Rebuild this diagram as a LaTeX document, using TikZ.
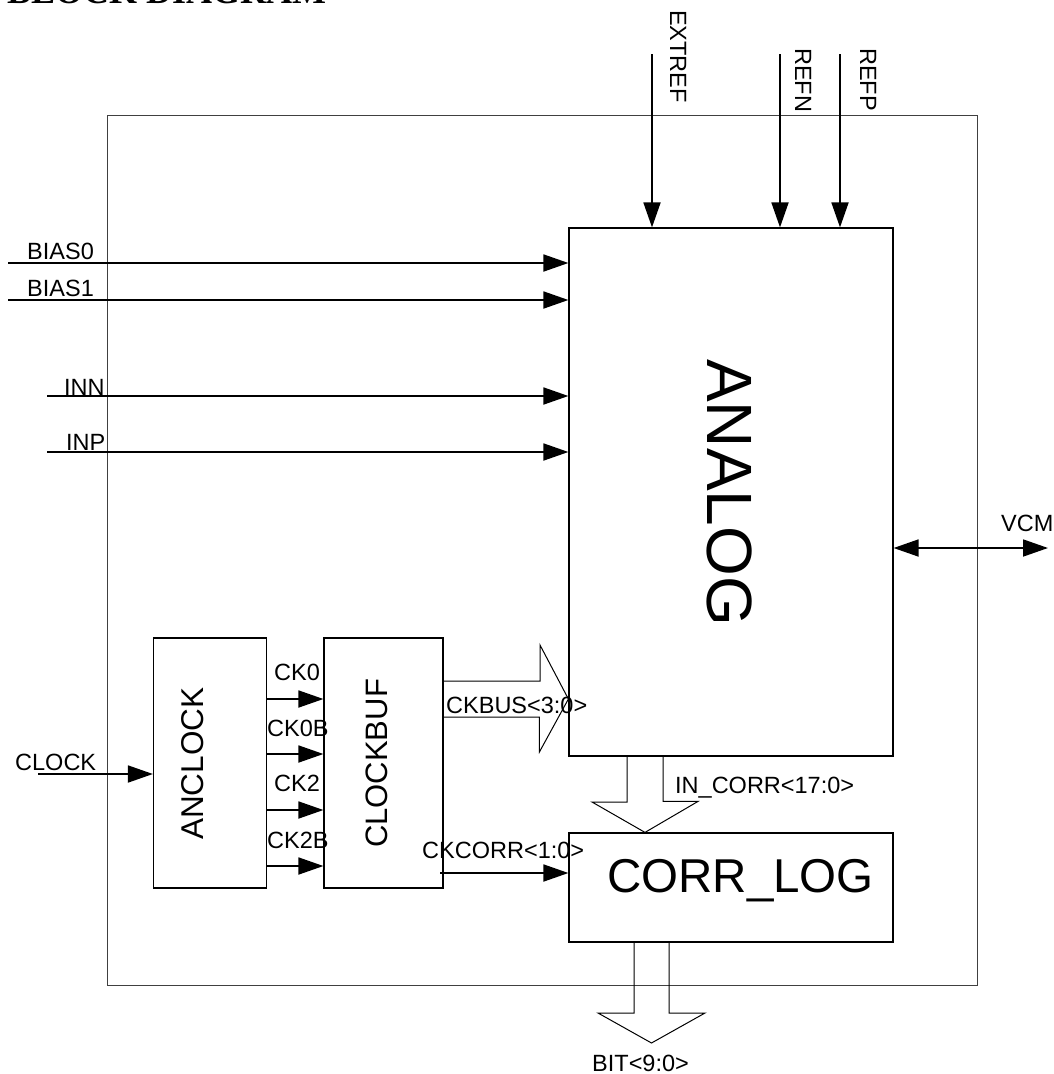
\documentclass[tikz,border=0pt]{standalone}
\usepackage{fontspec}
\setmainfont{Liberation Sans}
\newfontfamily\headfont{Liberation Serif}
\usetikzlibrary{arrows.meta}
\tikzset{
  blk/.style={draw,line width=1.2pt,inner sep=0pt},
  sig/.style={line width=1.8pt,-{Triangle[length=25pt,width=17pt]}},
  dsig/.style={line width=1.8pt,{Triangle[length=25pt,width=17pt]}-{Triangle[length=25pt,width=17pt]}},
  bus/.style={line width=1pt},
  lbl/.style={anchor=base west,inner sep=0pt,font=\fontsize{23.5}{28}\selectfont},
}
\begin{document}
\begin{tikzpicture}[x=1pt,y=-1pt]
\useasboundingbox (0,0) rectangle (1053,1074);
\node[lbl,font=\headfont\bfseries\fontsize{36}{40}\selectfont] (title) at (7,3) {BLOCK DIAGRAM};
\node[blk,draw=black!75,line width=1pt,minimum width=870pt,minimum height=870pt] (chip) at (542,550) {};
\node[blk,minimum width=324pt,minimum height=528pt] (analog) at (731,492) {};
\node[blk,minimum width=324pt,minimum height=109pt] (corrlog) at (731,887.5) {};
\node[blk,minimum width=113pt,minimum height=250pt] (anclock) at (210,763) {};
\node[blk,minimum width=119pt,minimum height=250pt] (clockbuf) at (383.5,763) {};
\node[lbl,rotate=-90,font=\fontsize{64}{70}\selectfont] (analogtxt) at (707,359) {ANALOG};
\node[lbl,font=\fontsize{47.5}{54}\selectfont] (corrlogtxt) at (607,892) {CORR\_LOG};
\node[lbl,rotate=90,font=\fontsize{31.5}{36}\selectfont] (anclocktxt) at (203,840) {ANCLOCK};
\node[lbl,rotate=90,font=\fontsize{31}{36}\selectfont] (clockbuftxt) at (387,848) {CLOCKBUF};
\coordinate (extref) at (652,54);
\coordinate (refn) at (780,54);
\coordinate (refp) at (840,54);
\coordinate (bias0) at (8,263);
\coordinate (bias1) at (8,300);
\coordinate (inn) at (47,396);
\coordinate (inp) at (47,452);
\coordinate (clock) at (38,774);
\coordinate (ck0) at (266,699);
\coordinate (ck0b) at (266,754);
\coordinate (ck2) at (266,810);
\coordinate (ck2b) at (266,866);
\coordinate (ckcorr) at (440,873);
\coordinate (vcm) at (1048,548);
\coordinate (ckbus) at (443,699);
\coordinate (incorr) at (645,757);
\coordinate (bit) at (651.5,942);
\draw[sig] (extref) -- (extref |- analog.north);
\draw[sig] (refn) -- (refn |- analog.north);
\draw[sig] (refp) -- (refp |- analog.north);
\node[lbl,rotate=-90] (extreflbl) at (670,10) {EXTREF};
\node[lbl,rotate=-90] (refnlbl) at (795,48) {REFN};
\node[lbl,rotate=-90] (refplbl) at (860,48) {REFP};
\draw[sig] (bias0) -- (bias0 -| analog.west);
\draw[sig] (bias1) -- (bias1 -| analog.west);
\draw[sig] (inn) -- (inn -| analog.west);
\draw[sig] (inp) -- (inp -| analog.west);
\node[lbl] (bias0lbl) at (27,259) {BIAS0};
\node[lbl] (bias1lbl) at (27,296) {BIAS1};
\node[lbl] (innlbl) at (64,395) {INN};
\node[lbl] (inplbl) at (66,450) {INP};
\draw[sig] (clock) -- (clock -| anclock.west);
\node[lbl] (clocklbl) at (15,770) {CLOCK};
\draw[sig] (ck0 -| anclock.east) -- (ck0 -| clockbuf.west);
\draw[sig] (ck0b -| anclock.east) -- (ck0b -| clockbuf.west);
\draw[sig] (ck2 -| anclock.east) -- (ck2 -| clockbuf.west);
\draw[sig] (ck2b -| anclock.east) -- (ck2b -| clockbuf.west);
\node[lbl] (ck0lbl) at (274,680) {CK0};
\node[lbl] (ck0blbl) at (267,736) {CK0B};
\node[lbl] (ck2lbl) at (274,791) {CK2};
\node[lbl] (ck2blbl) at (267,848) {CK2B};
\draw[sig] (ckcorr) -- (ckcorr -| corrlog.west);
\node[lbl] (ckcorrlbl) at (422,858) {CKCORR<1:0>};
\draw[bus] ([yshift=18pt]ckbus) -- ++(97,0) -- ++(0,-36) -- (ckbus -| analog.west) -- ++(-29,53) -- ++(0,-35) -- ++(-97,0);
\node[lbl] (ckbuslbl) at (446,713) {CKBUS<3:0>};
\draw[bus] ([xshift=-18pt]incorr) -- ++(0,45) -- ++(-35,0) -- (incorr |- corrlog.north) -- ++(53,-31) -- ++(-35,0) -- ++(0,-45);
\node[lbl] (incorrlbl) at (675,793) {IN\_CORR<17:0>};
\draw[bus] ([xshift=-17.5pt]bit) -- ++(0,71) -- ++(-36,0) -- ++(53.5,30) -- ++(53.5,-30) -- ++(-36,0) -- ++(0,-71);
\node[lbl] (bitlbl) at (592,1071) {BIT<9:0>};
\draw[dsig] (vcm -| analog.east) -- (vcm);
\node[lbl] (vcmlbl) at (1001,531) {VCM};
\end{tikzpicture}
\end{document}
